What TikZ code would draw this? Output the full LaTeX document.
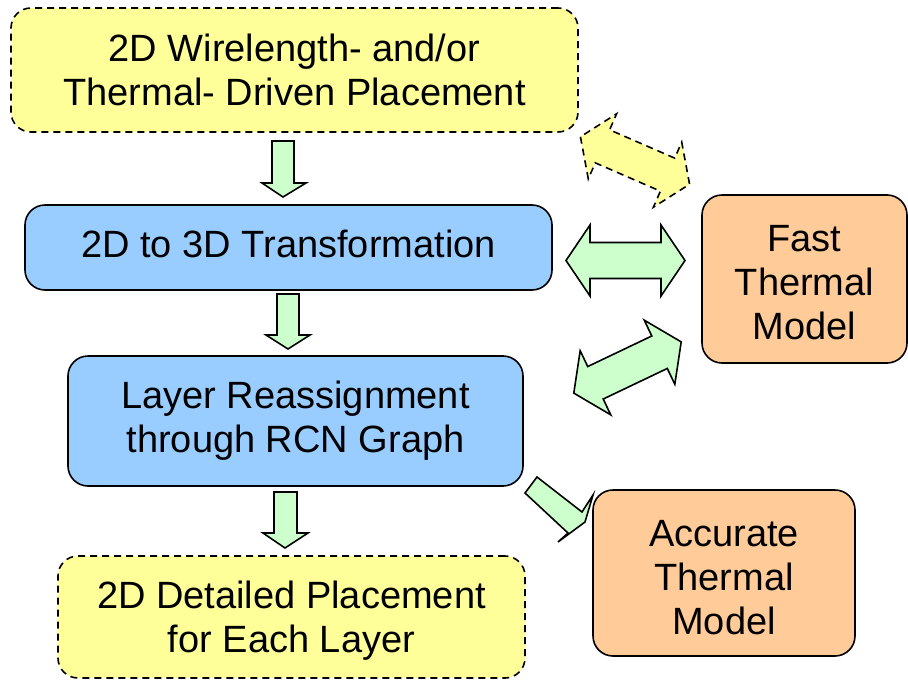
\documentclass[tikz,border=0pt]{standalone}
\usepackage{fontspec}
\setmainfont{Liberation Sans}
\definecolor{yel}{HTML}{FFFF99}
\definecolor{blu}{HTML}{99CCFF}
\definecolor{ora}{HTML}{FFCC99}
\definecolor{grn}{HTML}{CCFFCC}
\tikzset{
  box/.style={draw=black, line width=1.6pt, rounded corners=20pt, align=center, inner sep=0pt,
    font=\fontsize{38}{44}\selectfont},
  dashbox/.style={box, fill=yel, dash pattern=on 7pt off 5pt},
  bluebox/.style={box, fill=blu},
  orabox/.style={box, fill=ora},
  garrow/.style={draw=black, line width=1.6pt, fill=grn, line join=miter},
  yarrow/.style={draw=black, line width=1.6pt, fill=yel, dash pattern=on 7pt off 5pt, line join=miter},
}
\begin{document}
\begin{tikzpicture}[x=1pt, y=-1pt]
\useasboundingbox (0,0) rectangle (908,680);

% boxes
\node[dashbox, minimum width=567pt, minimum height=124pt] (place) at (294.5,70) {2D Wirelength- and/or\\Thermal- Driven Placement};
\node[bluebox, minimum width=527pt, minimum height=85pt] (trans) at (288.5,247.5) {2D to 3D Transformation\rule[-8pt]{0pt}{8pt}};
\node[bluebox, minimum width=455pt, minimum height=130pt] (layer) at (295.5,421) {Layer Reassignment\\through RCN Graph};
\node[dashbox, minimum width=467pt, minimum height=122pt] (detail) at (291.5,617) {\rule{0pt}{34pt}2D Detailed Placement\\for Each Layer};
\node[orabox, minimum width=205pt, minimum height=168pt] (fast) at (804.5,279) {\rule{0pt}{33pt}Fast\\Thermal\\Model};

% accurate arrow (drawn before the box that covers its tip)
\draw[garrow] (537,477) -- (582,512) -- (593,495) -- (585,522) -- (558,542) -- (568,533) -- (525,493) -- cycle;
\node[orabox, minimum width=262pt, minimum height=166pt] (acc) at (724,573) {\rule{0pt}{36pt}Accurate\\Thermal\\Model};

% down arrows
\draw[garrow] (272,141) -- (294,141) -- (294,183) -- (306,183) -- (283,197) -- (262,183) -- (272,183) -- cycle;
\draw[garrow] (277,294) -- (299,294) -- (299,335) -- (310,335) -- (288,349) -- (266,335) -- (277,335) -- cycle;
\draw[garrow] (274,492) -- (297,492) -- (297,533) -- (308,533) -- (285,548) -- (263,533) -- (274,533) -- cycle;

% double arrows
\def\dbl{(-59.5,0) -- (-35.5,35.5) -- (-35.5,18) -- (35.5,18) -- (35.5,35.5) -- (59.5,0) -- (35.5,-35.5) -- (35.5,-18) -- (-35.5,-18) -- (-35.5,-35.5) -- cycle}
\begin{scope}[shift={(625.5,260.5)}]
  \draw[garrow] \dbl;
\end{scope}
\begin{scope}[shift={(627.5,367.5)}, rotate=25.5]
  \draw[garrow] \dbl;
\end{scope}
\begin{scope}[shift={(635,160.5)}, rotate=-23.5]
  \draw[yarrow] \dbl;
\end{scope}
\end{tikzpicture}
\end{document}
